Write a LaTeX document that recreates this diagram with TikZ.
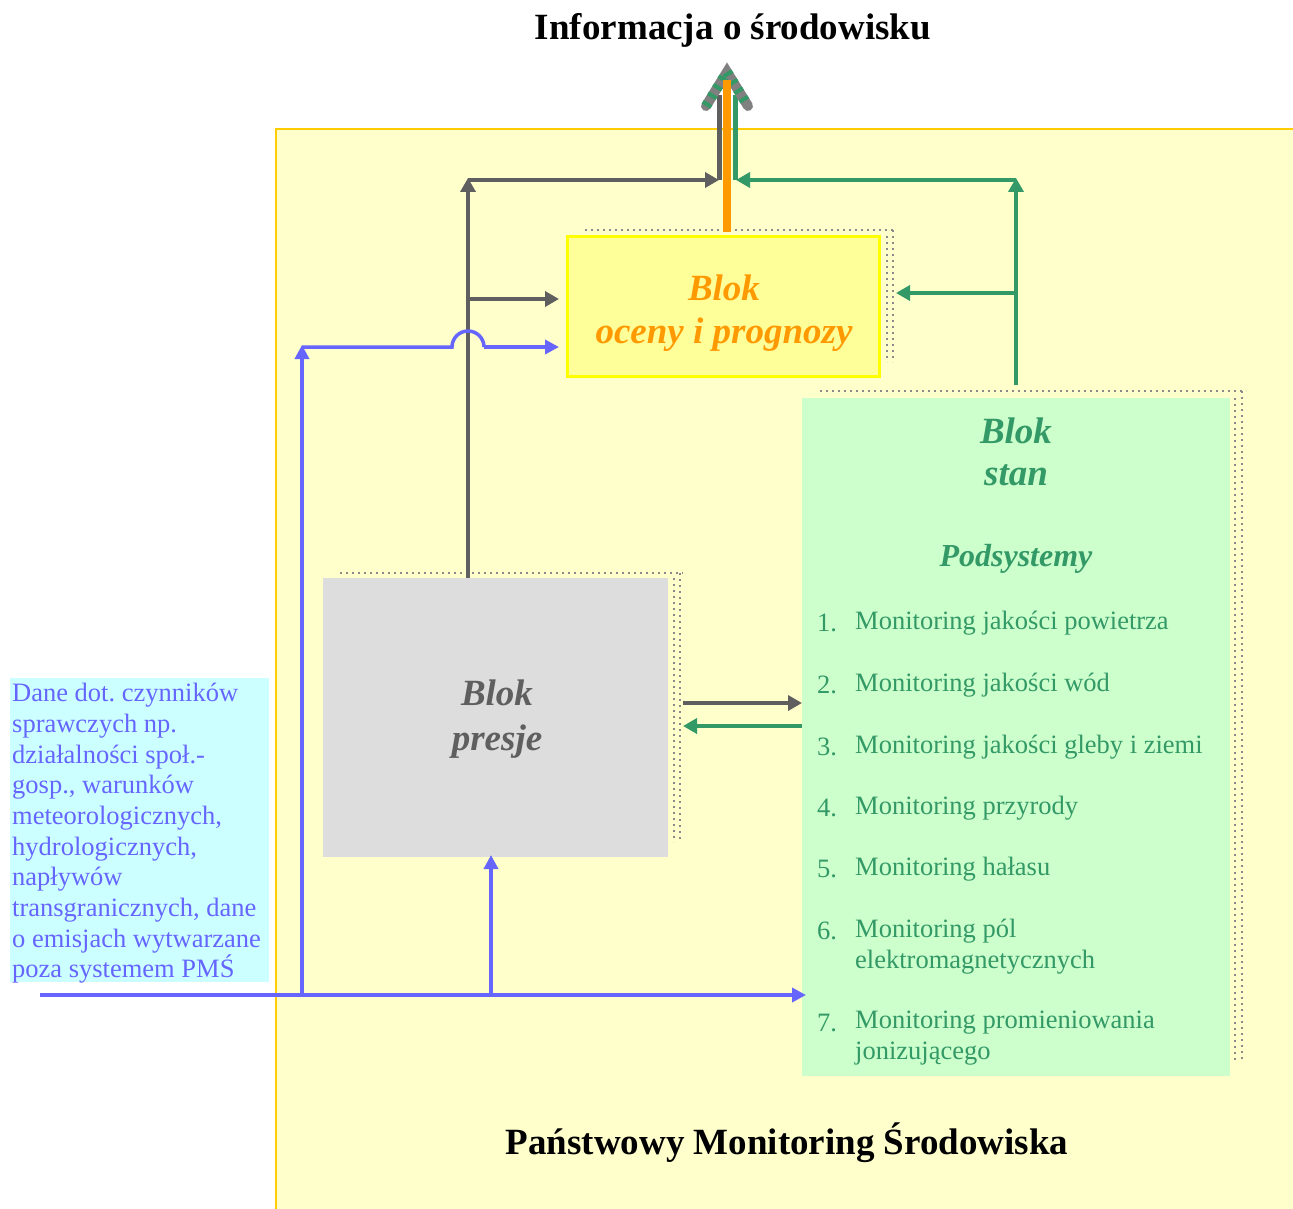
\documentclass[tikz,border=0pt]{standalone}
\usepackage{fontspec}
\setmainfont{Liberation Serif}
\usetikzlibrary{arrows.meta}
\frenchspacing
\definecolor{pmsfill}{HTML}{FFFFCC}
\definecolor{pmsborder}{HTML}{FFCC00}
\definecolor{ocfill}{HTML}{FFFF99}
\definecolor{ocborder}{HTML}{FFFF00}
\definecolor{orangec}{HTML}{FF9900}
\definecolor{grayc}{HTML}{5F5F5F}
\definecolor{greenc}{HTML}{339966}
\definecolor{bluec}{HTML}{6666FF}
\definecolor{presfill}{HTML}{DDDDDD}
\definecolor{stanfill}{HTML}{CCFFCC}
\definecolor{cyanfill}{HTML}{CCFFFF}
\definecolor{shadowc}{HTML}{8A8A8A}
\definecolor{arrgray}{HTML}{808080}
\begin{document}
\begin{tikzpicture}[x=1pt,y=-1pt,
  box/.style={anchor=north west,inner sep=0pt,outer sep=0pt},
  shad/.style={shadowc,line width=1.6pt,dash pattern=on 1.6pt off 4.4pt},
  garrow/.style={grayc,line width=4pt,-{Triangle[length=14pt,width=15pt]}},
  grarrow/.style={greenc,line width=4pt,-{Triangle[length=14pt,width=15pt]}},
  barrow/.style={bluec,line width=3.5pt,-{Triangle[length=14pt,width=14pt]}},
  bigtitle/.style={font=\fontsize{37}{44}\selectfont\bfseries},
  blocktxt/.style={font=\fontsize{37}{43}\selectfont\bfseries\itshape,align=center},
  itemtxt/.style={font=\fontsize{26.5}{31}\selectfont,text=greenc,anchor=west,inner sep=0pt,align=left},
]
\useasboundingbox (0,0) rectangle (1293,1209);
\clip (0,0) rectangle (1293,1209);

% main yellow area
\node[box,fill=pmsfill,draw=pmsborder,line width=2pt,minimum width=1030pt,minimum height=1090pt] (pms) at (276,129) {};

% titles
\node[bigtitle] (info) at (733,30) {Informacja o środowisku};
\node[bigtitle] (pmstitle) at (787,1143) {Państwowy Monitoring Środowiska};

% shadows
\draw[shad] (585,230) -- (895,230);
\draw[shad] (887,236) -- (887,362);
\draw[shad] (893,230) -- (893,362);
\draw[shad] (340,573) -- (683,573);
\draw[shad] (674,578) -- (674,842);
\draw[shad] (680,573) -- (680,842);
\draw[shad] (820,391) -- (1246,391);
\draw[shad] (1235,398) -- (1235,1060);
\draw[shad] (1242,391) -- (1242,1060);

% blocks
\node[box,fill=ocfill,draw=ocborder,line width=3pt,minimum width=312pt,minimum height=139pt] (ocena) at (567,237) {};
\node[blocktxt,text=orangec] at (724,313) {Blok\\oceny i prognozy};

\node[box,fill=presfill,minimum width=345pt,minimum height=279pt] (presje) at (323,578) {};
\node[blocktxt,text=grayc,font=\fontsize{37}{45}\selectfont\bfseries\itshape] at (497,719) {Blok\\presje};

\node[box,fill=stanfill,minimum width=428pt,minimum height=678pt] (stan) at (802,398) {};
\node[blocktxt,text=greenc,font=\fontsize{37}{42}\selectfont\bfseries\itshape] at (1016,452) {Blok\\stan};
\node[text=greenc,font=\fontsize{32}{36}\selectfont\bfseries\itshape] at (1016,559) {Podsystemy};

\node[itemtxt] at (817,623) {1.};
\node[itemtxt] at (855,623) {Monitoring jakości powietrza};
\node[itemtxt] at (817,685) {2.};
\node[itemtxt] at (855,685) {Monitoring jakości wód};
\node[itemtxt] at (817,747) {3.};
\node[itemtxt] at (855,747) {Monitoring jakości gleby i ziemi};
\node[itemtxt] at (817,808) {4.};
\node[itemtxt] at (855,808) {Monitoring przyrody};
\node[itemtxt] at (817,869) {5.};
\node[itemtxt] at (855,869) {Monitoring hałasu};
\node[itemtxt] at (817,931) {6.};
\node[itemtxt] at (855,946.5) {Monitoring pól\\elektromagnetycznych};
\node[itemtxt] at (817,1023) {7.};
\node[itemtxt] at (855,1038.5) {Monitoring promieniowania\\jonizującego};

% cyan input box
\node[box,fill=cyanfill,minimum width=259pt,minimum height=304pt] (dane) at (10,678) {};
\node[anchor=north west,inner sep=0pt,text=bluec,align=left,font=\fontsize{26.5}{30.7}\selectfont] (danetxt) at (12,683) {Dane dot. czynników\\sprawczych np.\\działalności społ.-\\gosp., warunków\\meteorologicznych,\\hydrologicznych,\\napływów\\transgranicznych, dane\\o emisjach wytwarzane\\poza systemem PMŚ};

% coordinates
\coordinate (gtop) at (468,178);
\coordinate (gmid) at (468,299);
\coordinate (pretop) at (468,578);
\coordinate (gend) at (719,180);
\coordinate (stop) at (1016,178);
\coordinate (smid) at (1016,293);
\coordinate (stanstart) at (1016,385);
\coordinate (send) at (736,180);
\coordinate (bstart) at (40,995);
\coordinate (bj1) at (302,995);
\coordinate (bj2) at (491,995);
\coordinate (bend) at (806,995);
\coordinate (btop) at (302,345);

% gray connectors
\draw[garrow] (pretop) -- (gtop);
\draw[garrow] (468,180) -- (gend);
\draw[garrow] (gmid) -- (559,299);
\draw[garrow] (683,703) -- (802,703);
% green connectors
\draw[grarrow] (stanstart) -- (stop);
\draw[grarrow] (1016,180) -- (send);
\draw[grarrow] (smid) -- (896,293);
\draw[grarrow] (802,726) -- (683,726);

% blue connectors
\draw[barrow] (bstart) -- (bend);
\draw[barrow] (bj1) -- (btop);
\draw[bluec,line width=3.5pt] (302,347) -- (452,347) arc[start angle=180,end angle=360,radius=16] -- (484,347);
\draw[barrow] (484,347) -- (559,347);
\draw[barrow] (bj2) -- (491,855);

% output: gray + green lines, orange, striped arrowhead
\draw[grayc,line width=5pt] (719,95) -- (719,180);
\draw[greenc,line width=5pt] (735,95) -- (735,180);
\draw[arrgray,line width=10pt,line cap=round,line join=miter] (706,106) -- (727,72) -- (748,106);
\draw[greenc,line width=10pt,dash pattern=on 4pt off 6pt] (706,106) -- (727,72) -- (748,106);
\draw[orangec,line width=8pt] (727,232) -- (727,80);
\end{tikzpicture}
\end{document}
